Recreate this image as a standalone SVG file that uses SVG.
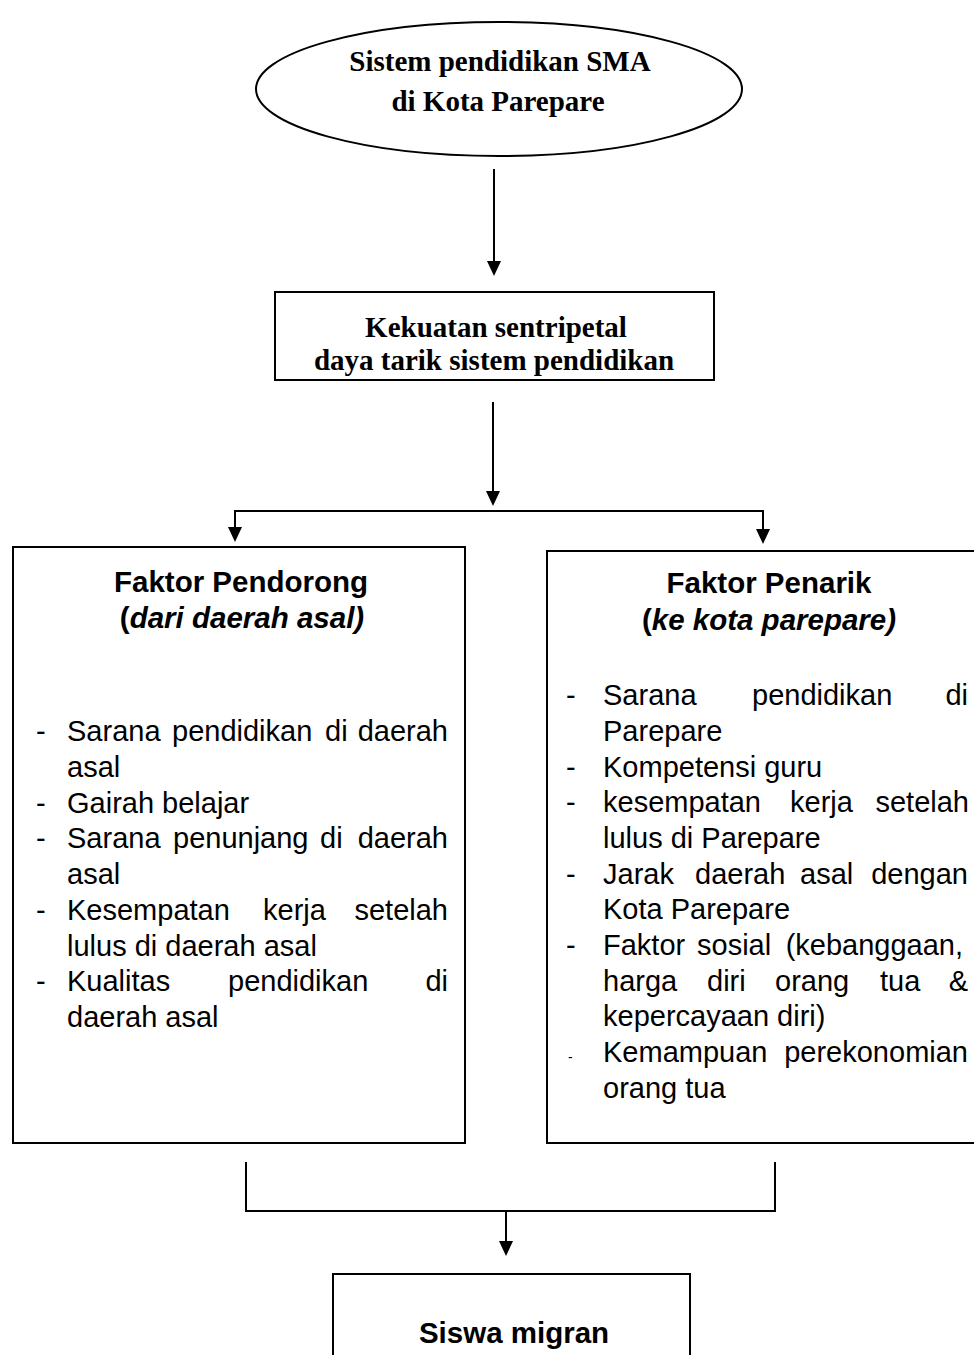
<svg xmlns="http://www.w3.org/2000/svg" width="974" height="1355" viewBox="0 0 974 1355">
<style>
.shape{fill:#fff;stroke:#000;stroke-width:2}
.ln{fill:none;stroke:#000;stroke-width:2}
.serif{font-family:"Liberation Serif","Times New Roman",serif;font-weight:bold;font-size:29px;fill:#000}
.hd{font-family:"Liberation Sans",Arial,sans-serif;font-weight:bold;font-size:29.5px;fill:#000}
.it{font-style:italic}
.tx{font-family:"Liberation Sans",Arial,sans-serif;font-size:29px;fill:#000}
.end{text-anchor:end}
.mid{text-anchor:middle}
</style>
<g id="connectors">
<line class="ln" x1="494" y1="169" x2="494" y2="261"/>
<polygon points="487,261 501,261 494,276" fill="#000"/>
<line class="ln" x1="493" y1="402" x2="493" y2="491"/>
<polygon points="486,491 500,491 493,506" fill="#000"/>
<polyline class="ln" points="235,527 235,511 763,511 763,529"/>
<polygon points="228,527 242,527 235,542" fill="#000"/>
<polygon points="756,529 770,529 763,544" fill="#000"/>
<polyline class="ln" points="246,1162 246,1211 775,1211 775,1162"/>
<line class="ln" x1="506" y1="1211" x2="506" y2="1241"/>
<polygon points="499,1241 513,1241 506,1256" fill="#000"/>
</g>
<g id="node-sistem">
<ellipse class="shape" cx="499" cy="89" rx="243" ry="67"/>
<text class="serif mid" x="500" y="71">Sistem pendidikan SMA</text>
<text class="serif mid" x="498" y="111">di Kota Parepare</text>
</g>
<g id="node-kekuatan">
<rect class="shape" x="275" y="292" width="439" height="88"/>
<text class="serif mid" x="496" y="337">Kekuatan sentripetal</text>
<text class="serif mid" x="494" y="370">daya tarik sistem pendidikan</text>
</g>
<g id="node-pendorong">
<rect class="shape" x="13" y="547" width="452" height="596"/>
<text class="hd mid" x="241" y="592">Faktor Pendorong</text>
<text class="hd mid" x="242" y="628">(<tspan class="it">dari daerah asal)</tspan></text>
<g class="tx">
<text x="36" y="741">-</text>
<text x="67" y="741">Sarana</text><text x="172" y="741">pendidikan</text><text x="325" y="741">di</text><text class="end" x="448" y="741">daerah</text>
<text x="67" y="777">asal</text>
<text x="36" y="812.5">-</text>
<text x="67" y="812.5">Gairah belajar</text>
<text x="36" y="848">-</text>
<text x="67" y="848">Sarana</text><text x="173" y="848">penunjang</text><text x="320" y="848">di</text><text class="end" x="448" y="848">daerah</text>
<text x="67" y="884">asal</text>
<text x="36" y="920">-</text>
<text x="67" y="920">Kesempatan</text><text x="263" y="920">kerja</text><text class="end" x="448" y="920">setelah</text>
<text x="67" y="955.5">lulus di daerah asal</text>
<text x="36" y="991">-</text>
<text x="67" y="991">Kualitas</text><text x="228" y="991">pendidikan</text><text class="end" x="448" y="991">di</text>
<text x="67" y="1027">daerah asal</text>
</g>
</g>
<g id="node-penarik">
<rect class="shape" x="547" y="551" width="440" height="592"/>
<text class="hd mid" x="769" y="593">Faktor Penarik</text>
<text class="hd mid" x="769" y="630">(<tspan class="it">ke kota parepare)</tspan></text>
<g class="tx">
<text x="566" y="705">-</text>
<text x="603" y="705">Sarana</text><text x="752" y="705">pendidikan</text><text class="end" x="968" y="705">di</text>
<text x="603" y="741">Parepare</text>
<text x="566" y="776.5">-</text>
<text x="603" y="776.5">Kompetensi guru</text>
<text x="566" y="812">-</text>
<text x="603" y="812">kesempatan</text><text x="790" y="812">kerja</text><text class="end" x="969" y="812">setelah</text>
<text x="603" y="848">lulus di Parepare</text>
<text x="566" y="884">-</text>
<text x="603" y="884">Jarak</text><text x="695" y="884">daerah</text><text x="800" y="884">asal</text><text class="end" x="968" y="884">dengan</text>
<text x="603" y="919">Kota Parepare</text>
<text x="566" y="955">-</text>
<text x="603" y="955">Faktor</text><text x="697" y="955">sosial</text><text class="end" x="963" y="955">(kebanggaan,</text>
<text x="603" y="991">harga</text><text x="707" y="991">diri</text><text x="775" y="991">orang</text><text x="880" y="991">tua</text><text class="end" x="968" y="991">&amp;</text>
<text x="603" y="1026">kepercayaan diri)</text>
<text x="568" y="1062" style="font-size:14px">-</text>
<text x="603" y="1062">Kemampuan</text><text class="end" x="968" y="1062">perekonomian</text>
<text x="603" y="1098">orang tua</text>
</g>
</g>
<g id="node-siswa">
<rect class="shape" x="333" y="1274" width="357" height="100"/>
<text class="hd mid" x="514" y="1343">Siswa migran</text>
</g>
</svg>
